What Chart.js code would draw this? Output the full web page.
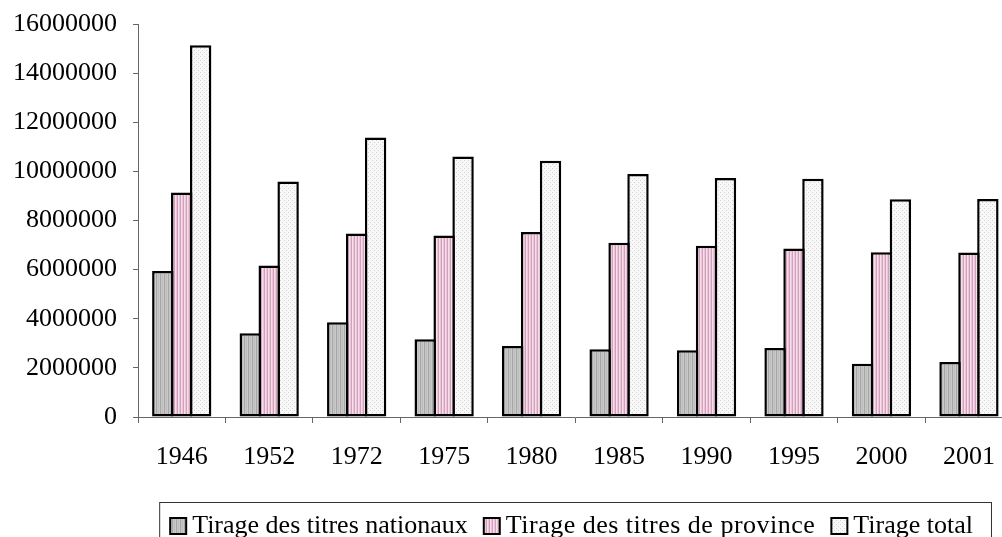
<!DOCTYPE html>
<html>
<head>
<meta charset="utf-8">
<script src="https://cdn.jsdelivr.net/npm/chart.js@4.4.1/dist/chart.umd.min.js"></script>
<style>
  html, body { margin: 0; padding: 0; background: #ffffff; overflow: hidden; }
  #wrap { width: 1002px; height: 537px; overflow: hidden; position: relative; }
  canvas { display: block; }
</style>
</head>
<body>
<div id="wrap"><canvas id="c" width="1014" height="537"></canvas></div>
<script>
const years = ['1946', '1952', '1972', '1975', '1980', '1985', '1990', '1995', '2000', '2001'];
const nationaux = [5940000, 3410000, 3860000, 3170000, 2890000, 2760000, 2720000, 2810000, 2170000, 2240000];
const province = [9140000, 6170000, 7470000, 7390000, 7530000, 7090000, 6970000, 6860000, 6710000, 6700000];
const total = [15130000, 9590000, 11380000, 10610000, 10430000, 9890000, 9730000, 9700000, 8870000, 8880000];
const seriesNames = ['Tirage des titres nationaux', 'Tirage des titres de province', 'Tirage total'];
const yTickValues = [0, 2000000, 4000000, 6000000, 8000000, 10000000, 12000000, 14000000, 16000000];

function makePattern(w, h, draw) {
  const c = document.createElement('canvas');
  c.width = w; c.height = h;
  const g = c.getContext('2d');
  draw(g);
  return g.createPattern(c, 'repeat');
}
const ctxMain = document.getElementById('c').getContext('2d');
const patNat = makePattern(4, 4, g => {
  const cols = ['#a6a6a6', '#c6c6c6', '#bdbdbd', '#cacaca'];
  cols.forEach((col, i) => { g.fillStyle = col; g.fillRect(i, 0, 1, 4); });
});
const patProv = makePattern(3, 3, g => {
  const cols = ['#d49fbc', '#f4dfea', '#e9c6d8'];
  cols.forEach((col, i) => { g.fillStyle = col; g.fillRect(i, 0, 1, 3); });
});
const patTot = makePattern(4, 4, g => {
  g.fillStyle = '#f8f8f8'; g.fillRect(0, 0, 4, 4);
  g.fillStyle = '#d2d2d2';
  g.fillRect(0, 0, 1, 1); g.fillRect(2, 2, 1, 1);
});
const fills = [patNat, patProv, patTot];

const FONT = 'Liberation Serif, "Times New Roman", serif';
const BW = 2.5;
const legendSpacing = ['0px', '0.5px', '0px'];

const legendPlugin = {
  id: 'boxLegend',
  afterDraw(chart) {
    const ctx = chart.ctx;
    ctx.save();
    ctx.font = '26px ' + FONT;
    const sw = 18, gapST = 5, gapItem = 15;
    const widths = chart.data.datasets.map((d, i) => {
      ctx.letterSpacing = legendSpacing[i];
      return ctx.measureText(d.label).width;
    });
    let totalW = 0;
    widths.forEach((w, i) => { totalW += sw + gapST + w + (i < widths.length - 1 ? gapItem : 0); });
    const right = 991;
    const textEnd = right - 18;
    let x = textEnd - totalW;
    const boxLeft = x - 10;
    ctx.letterSpacing = '0px';
    ctx.strokeStyle = '#333';
    ctx.lineWidth = 1;
    ctx.strokeRect(boxLeft + 0.5, 502.5, right - boxLeft, 60);
    chart.data.datasets.forEach((d, i) => {
      ctx.fillStyle = '#000';
      ctx.fillRect(x, 517, sw, sw);
      ctx.fillStyle = d.backgroundColor;
      ctx.fillRect(x + 2, 519, sw - 4, sw - 4);
      x += sw + gapST;
      ctx.fillStyle = '#000';
      ctx.textBaseline = 'alphabetic';
      ctx.textAlign = 'left';
      ctx.letterSpacing = legendSpacing[i];
      ctx.fillText(d.label, x, 533);
      x += widths[i] + gapItem;
    });
    ctx.restore();
  }
};

const barCommon = {
  borderColor: '#000000',
  borderWidth: BW,
  borderSkipped: false,
  categoryPercentage: 0.649,
  barPercentage: 1.132
};

new Chart(ctxMain, {
  type: 'bar',
  data: {
    labels: years,
    datasets: [
      Object.assign({ label: seriesNames[0], data: nationaux, backgroundColor: fills[0] }, barCommon),
      Object.assign({ label: seriesNames[1], data: province, backgroundColor: fills[1] }, barCommon),
      Object.assign({ label: seriesNames[2], data: total, backgroundColor: fills[2] }, barCommon)
    ]
  },
  options: {
    responsive: false,
    animation: false,
    devicePixelRatio: 1,
    layout: { padding: { top: 24, left: 0, right: 1, bottom: 0 } },
    plugins: {
      legend: { display: false },
      tooltip: { enabled: false },
      title: { display: false }
    },
    scales: {
      x: {
        grid: { display: true, drawOnChartArea: false, offset: true, tickLength: 6, color: '#666', lineWidth: 1 },
        border: { display: true, color: '#666', width: 1 },
        ticks: { color: '#000', font: { family: FONT, size: 26, lineHeight: 1.2 }, padding: 19, maxRotation: 0, autoSkip: false },
        afterFit(scale) { scale.height = 120; }
      },
      y: {
        min: 0,
        max: 16000000,
        afterBuildTicks(scale) { scale.ticks = yTickValues.map(v => ({ value: v })); },
        grid: { display: true, drawOnChartArea: false, tickLength: 5, color: '#666', lineWidth: 1 },
        border: { display: true, color: '#666', width: 1 },
        ticks: { color: '#000', font: { family: FONT, size: 26, lineHeight: 0.8 }, padding: 16,
                 callback: v => String(v) },
        afterFit(scale) { scale.width = 138; scale.paddingTop = 0; scale.paddingBottom = 0; }
      }
    }
  },
  plugins: [legendPlugin]
});
</script>
</body>
</html>
